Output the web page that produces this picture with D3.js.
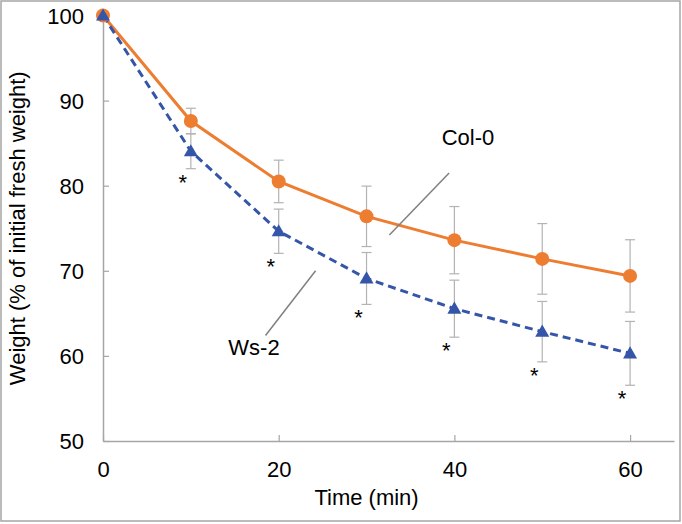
<!DOCTYPE html>
<html><head><meta charset="utf-8">
<script src="https://cdn.jsdelivr.net/npm/d3@7"></script>
<style>body{margin:0;background:#fff}svg{display:block;font-family:"Liberation Sans",Arial,sans-serif}</style>
</head><body>
<svg id="c" width="682" height="524"></svg>
<script>
const times = [0, 10, 20, 30, 40, 50, 60];
const col0 = [100, 87.6, 80.5, 76.4, 73.6, 71.4, 69.4];
const col0Err = [0, 1.5, 2.5, 3.55, 3.95, 4.15, 4.25];
const ws2 = [100, 84.05, 74.65, 69.1, 65.55, 62.85, 60.3];
const ws2Err = [0, 2.05, 2.6, 3.05, 3.35, 3.55, 3.75];
const signif = [false, true, true, true, true, true, true];
const xTicks = [0, 20, 40, 60];
const yTicks = [50, 60, 70, 80, 90, 100];

const svg = d3.select("#c");
const x = d3.scaleLinear().domain([0, 65]).range([103, 674]);
const y = d3.scaleLinear().domain([50, 100]).range([441, 15.5]);
const axisCol = "#a6a6a6";
const orange = "#ED7D31", blue = "#3556A8";
const FS = 22;

svg.append("rect").attr("x", 1).attr("y", 1).attr("width", 679).attr("height", 520)
  .attr("fill", "#fff").attr("stroke", "#a5a5a5").attr("stroke-width", 1.5);

// axes
const xa = svg.append("g").attr("transform", `translate(0,${y(50)})`)
  .call(d3.axisBottom(x).tickValues(xTicks).tickSizeInner(-6).tickSizeOuter(0).tickPadding(20));
const ya = svg.append("g").attr("transform", `translate(${x(0)},0)`)
  .call(d3.axisLeft(y).tickValues(yTicks).tickSizeInner(-6).tickSizeOuter(0).tickPadding(19));
[xa, ya].forEach(a => {
  a.select(".domain").attr("stroke", axisCol).attr("stroke-width", 1.5);
  a.selectAll(".tick line").attr("stroke", axisCol).attr("stroke-width", 1.2);
  a.selectAll(".tick text").attr("font-size", FS).attr("fill", "#000")
   .attr("font-family", "Liberation Sans, Arial, sans-serif");
});
ya.selectAll(".tick text").attr("dy", "0.36em");

svg.append("text").attr("x", x(30)).attr("y", 505).attr("text-anchor", "middle")
  .attr("font-size", FS).text("Time (min)");
svg.append("text").attr("transform", `translate(25,${(y(50)+y(100))/2}) rotate(-90)`)
  .attr("text-anchor", "middle").attr("font-size", FS).text("Weight (% of initial fresh weight)");

// error bars
function errBars(vals, errs) {
  const g = svg.append("g").attr("stroke", "#b3b3b3").attr("stroke-width", 1.2);
  times.forEach((t, i) => {
    if (!errs[i]) return;
    const cx = x(t), y1 = y(vals[i] + errs[i]), y2 = y(vals[i] - errs[i]);
    g.append("line").attr("x1", cx).attr("x2", cx).attr("y1", y1).attr("y2", y2);
    g.append("line").attr("x1", cx - 5).attr("x2", cx + 5).attr("y1", y1).attr("y2", y1);
    g.append("line").attr("x1", cx - 5).attr("x2", cx + 5).attr("y1", y2).attr("y2", y2);
  });
}
errBars(col0, col0Err);
errBars(ws2, ws2Err);

const line = d3.line().x(d => x(d[0])).y(d => y(d[1]));
svg.append("path").datum(times.map((t, i) => [t, col0[i]])).attr("d", line)
  .attr("fill", "none").attr("stroke", orange).attr("stroke-width", 3);
svg.append("path").datum(times.map((t, i) => [t, ws2[i]])).attr("d", line)
  .attr("fill", "none").attr("stroke", blue).attr("stroke-width", 3).attr("stroke-dasharray", "8,5");

svg.append("g").selectAll("circle").data(times).join("circle")
  .attr("cx", d => x(d)).attr("cy", (d, i) => y(col0[i])).attr("r", 7).attr("fill", orange);
const tri = d3.symbol().type(d3.symbolTriangle).size(85);
svg.append("g").selectAll("path").data(times).join("path")
  .attr("d", tri).attr("fill", blue)
  .attr("transform", (d, i) => `translate(${x(d)},${y(ws2[i]) + 1})`);

// significance stars
svg.append("g").selectAll("text").data(times.filter((t, i) => signif[i])).join("text")
  .attr("x", d => x(d) - 8)
  .attr("y", d => { const i = times.indexOf(d); return y(ws2[i] - ws2Err[i]) + 21; })
  .attr("text-anchor", "middle").attr("font-size", FS).text("*");

// labels with leader lines
const lab = svg.append("g");
lab.append("line").attr("x1", x(32.6)).attr("y1", y(74.2)).attr("x2", x(39.4)).attr("y2", y(81.5))
  .attr("stroke", "#808080").attr("stroke-width", 1.5);
lab.append("text").attr("x", 468).attr("y", 145).attr("text-anchor", "middle").attr("font-size", FS).text("Col-0");
lab.append("line").attr("x1", x(18.5)).attr("y1", y(62.4)).attr("x2", x(24.2)).attr("y2", y(70))
  .attr("stroke", "#808080").attr("stroke-width", 1.5);
lab.append("text").attr("x", 254).attr("y", 355).attr("text-anchor", "middle").attr("font-size", FS).text("Ws-2");
</script>
</body></html>
